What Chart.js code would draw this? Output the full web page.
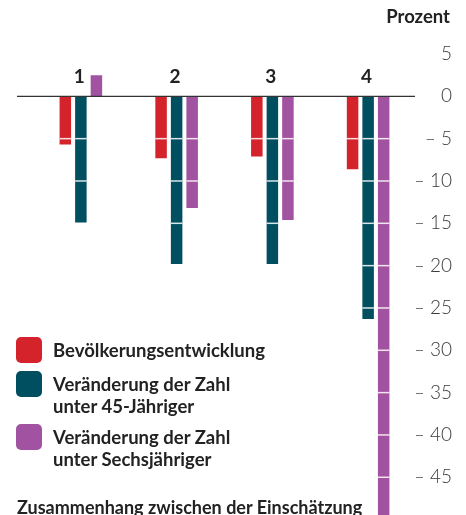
<!DOCTYPE html>
<html lang="de">
<head>
<meta charset="utf-8">
<title>Prozent</title>
<script src="https://cdn.jsdelivr.net/npm/chart.js@4.4.1/dist/chart.umd.min.js"></script>
<style>
    html, body {
        margin: 0;
        padding: 0;
        width: 466px;
        height: 515px;
        overflow: hidden;
        background: #fff;
        font-family: Lato, "Noto Sans", sans-serif;
        color: #222;
    }
    .wrap {
        position: relative;
        width: 466px;
        height: 515px;
    }
    canvas {
        position: absolute;
        left: 0;
        top: 0;
    }
    .unit {
        position: absolute;
        right: 16px;
        top: 5px;
        font-size: 18.5px;
        font-weight: 700;
        line-height: 22px;
    }
    .legend {
        position: absolute;
        left: 16px;
        top: 337px;
    }
    .legend-item {
        position: absolute;
        padding-left: 37px;
        font-size: 18.5px;
        font-weight: 700;
        line-height: 22px;
        white-space: nowrap;
    }
    .legend-item .box {
        position: absolute;
        left: 0;
        top: 0;
        width: 26px;
        height: 26px;
        border-radius: 5px;
    }
    .legend-item .text {
        padding-top: 2px;
    }
    .note {
        position: absolute;
        left: 17px;
        top: 496px;
        font-size: 18px;
        font-weight: 700;
        line-height: 22px;
        white-space: nowrap;
    }
</style>
</head>
<body>
<div class="wrap">
    <canvas id="chart" width="466" height="534"></canvas>
    <div class="unit">Prozent</div>
    <div class="legend" id="legend"></div>
    <div class="note">Zusammenhang zwischen der Einschätzung</div>
</div>
<script>
const categories = ['1', '2', '3', '4'];
const population = [-5.7, -7.3, -7.1, -8.6];
const under45 = [-14.9, -19.8, -19.8, -26.3];
const underSix = [2.5, -13.2, -14.6, -52];
const seriesNames = [
    ['Bevölkerungsentwicklung'],
    ['Veränderung der Zahl', 'unter 45-Jähriger'],
    ['Veränderung der Zahl', 'unter Sechsjähriger']
];
const seriesColors = ['#d4232b', '#004f61', '#a153a1'];
const yTicks = [5, 0, -5, -10, -15, -20, -25, -30, -35, -40, -45];

// white separators across the bars at every tick
const barBreaks = {
    id: 'barBreaks',
    afterDatasetsDraw(chart) {
        const ctx = chart.ctx;
        const y = chart.scales.y;
        ctx.save();
        ctx.strokeStyle = 'rgba(255,255,255,0.85)';
        ctx.lineWidth = 1.5;
        chart.data.datasets.forEach((ds, i) => {
            chart.getDatasetMeta(i).data.forEach(bar => {
                const top = Math.min(bar.y, bar.base);
                const bottom = Math.max(bar.y, bar.base);
                yTicks.forEach(v => {
                    if (v === 0) return;
                    const py = y.getPixelForValue(v);
                    if (py > top + 1 && py < bottom - 1) {
                        ctx.beginPath();
                        ctx.moveTo(bar.x - bar.width / 2, py);
                        ctx.lineTo(bar.x + bar.width / 2, py);
                        ctx.stroke();
                    }
                });
            });
        });
        ctx.restore();
    }
};

// zero line and the category numbers above it
const zeroLine = {
    id: 'zeroLine',
    afterDraw(chart) {
        const ctx = chart.ctx;
        const y0 = chart.scales.y.getPixelForValue(0);
        const x = chart.scales.x;
        ctx.save();
        ctx.strokeStyle = '#333';
        ctx.lineWidth = 1.2;
        ctx.beginPath();
        ctx.moveTo(17, y0);
        ctx.lineTo(chart.chartArea.right - 1, y0);
        ctx.stroke();
        ctx.fillStyle = '#222';
        ctx.font = '700 19px Lato, "Noto Sans", sans-serif';
        ctx.textAlign = 'center';
        ctx.textBaseline = 'middle';
        categories.forEach((c, i) => {
            ctx.fillText(c, x.getPixelForValue(i) - 1.5, y0 - 19.5);
        });
        ctx.restore();
    }
};

function renderLegend() {
    const legend = document.getElementById('legend');
    const tops = [0, 34, 87];
    seriesNames.forEach((lines, i) => {
        const item = document.createElement('div');
        item.className = 'legend-item';
        item.style.top = tops[i] + 'px';
        item.innerHTML = `<span class="box" style="background:${seriesColors[i]}"></span>` +
            `<div class="text">${lines.join('<br>')}</div>`;
        legend.appendChild(item);
    });
}

function renderChart() {
    const data = [population, under45, underSix];
    new Chart(document.getElementById('chart'), {
        type: 'bar',
        data: {
            labels: categories,
            datasets: data.map((values, i) => ({
                label: seriesNames[i].join(' '),
                data: values,
                backgroundColor: seriesColors[i],
                borderWidth: 0,
                categoryPercentage: 0.487,
                barPercentage: 0.74
            }))
        },
        options: {
            responsive: false,
            animation: false,
            layout: {
                padding: { left: 33, right: 14, top: 54, bottom: 12 }
            },
            plugins: {
                legend: { display: false },
                tooltip: { enabled: false }
            },
            scales: {
                x: {
                    display: false
                },
                y: {
                    position: 'right',
                    min: -50,
                    max: 5,
                    grid: { display: false, drawTicks: false },
                    border: { display: false },
                    ticks: {
                        stepSize: 5,
                        padding: 3,
                        crossAlign: 'far',
                        color: '#3a3a3a',
                        font: { family: 'Lato, "Noto Sans", sans-serif', size: 19, weight: 300 },
                        callback: v => {
                            if (v === -50) return '';
                            return v < 0 ? '\u2013 ' + Math.abs(v) : String(v);
                        }
                    },
                    afterFit: scale => { scale.width = 36; }
                }
            }
        },
        plugins: [barBreaks, zeroLine]
    });
}

document.addEventListener('DOMContentLoaded', () => {
    renderLegend();
    renderChart();
});
</script>
</body>
</html>
